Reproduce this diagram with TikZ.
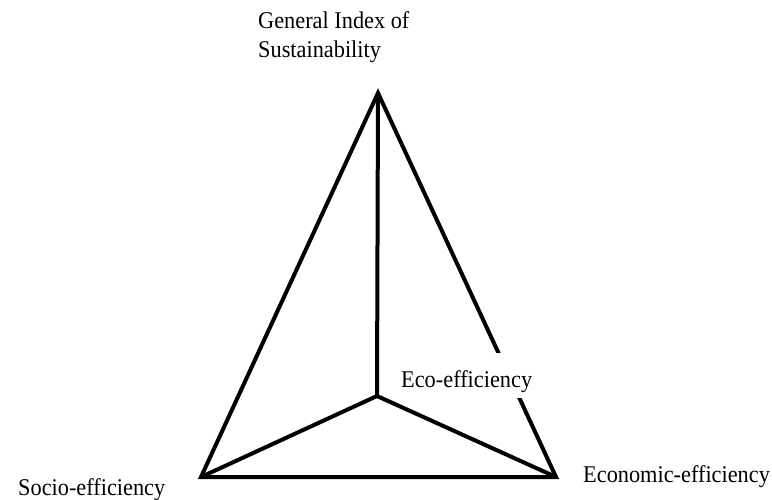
\documentclass[tikz,border=0pt]{standalone}
\usepackage{fontspec}
\setmainfont[FakeStretch=0.93]{Liberation Serif}
\begin{document}
\begin{tikzpicture}[x=1pt,y=-1pt,
  edge/.style={line width=4pt,line join=miter,line cap=butt},
  lbl/.style={font=\fontsize{24}{29}\selectfont,inner sep=0pt,anchor=base west}]
\useasboundingbox (0,0) rectangle (772,499);
\coordinate (A) at (378,93);
\coordinate (L) at (201,477);
\coordinate (R) at (556,477);
\coordinate (C) at (377,396);
\draw[edge] (A) -- (L) -- (R) -- cycle;
\draw[edge] (A) -- (C);
\draw[edge] (L) -- (C) -- (R);
\node[lbl,align=left] (gen) at (258,57) {General Index of\\Sustainability};
\node[lbl] (soc) at (18,495) {Socio-efficiency};
\node[lbl] (ecn) at (583,482) {Economic-efficiency};
\node[lbl,fill=white,inner xsep=2pt,text height=34pt,text depth=11pt] (eco) at (399,387) {Eco-efficiency};
\end{tikzpicture}
\end{document}
